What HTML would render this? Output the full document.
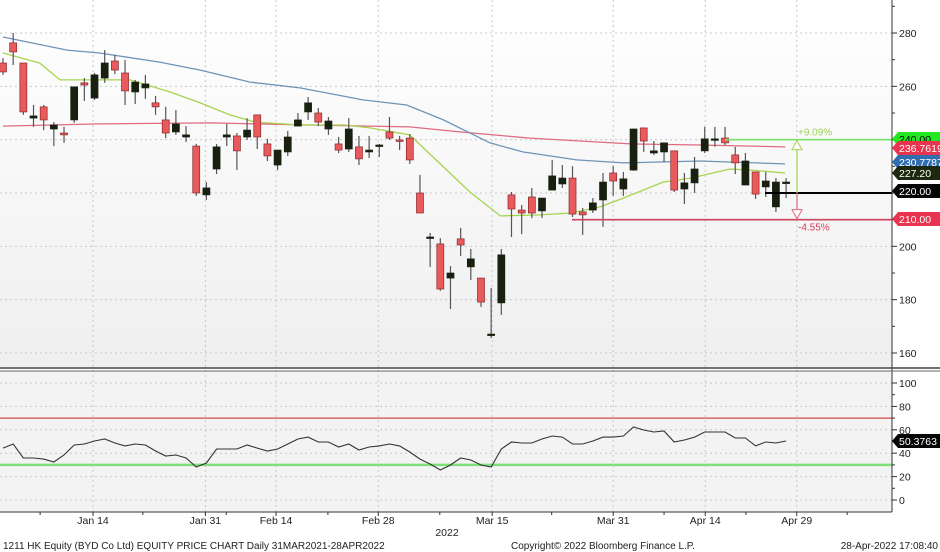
<!DOCTYPE html>
<html><head><meta charset="utf-8"><style>
html,body{margin:0;padding:0;background:#fff;}
#wrap{position:relative;width:940px;height:552px;overflow:hidden;font-family:"Liberation Sans",sans-serif;}
svg text{font-family:"Liberation Sans",sans-serif;}
</style></head><body>
<div id="wrap">
<svg id="chart" width="940" height="552" viewBox="0 0 940 552" xmlns="http://www.w3.org/2000/svg">
<defs><linearGradient id="bg" x1="0" y1="0" x2="0" y2="1"><stop offset="0" stop-color="#ffffff"/><stop offset="1" stop-color="#efefef"/></linearGradient></defs>
<rect x="0" y="0" width="892" height="367" fill="url(#bg)"/>
<rect x="0" y="371" width="892" height="141" fill="#f3f3f3"/>
<g id="grid"></g><g id="ma"></g><g id="candles"></g><g id="levels"></g><g id="rsi"></g><g id="axes"></g>
<line x1="0" y1="368" x2="940" y2="368" stroke="#444" stroke-width="1.5"/>
<line x1="0" y1="371" x2="940" y2="371" stroke="#666" stroke-width="1"/>
<text x="3" y="549" font-size="10" fill="#222">1211 HK Equity (BYD Co Ltd) EQUITY PRICE CHART  Daily 31MAR2021-28APR2022</text>
<text x="511" y="549" font-size="10" fill="#222">Copyright© 2022 Bloomberg Finance L.P.</text>
<text x="938" y="549" font-size="10" fill="#222" text-anchor="end">28-Apr-2022 17:08:40</text>
<text x="447" y="536" font-size="10.5" fill="#222" text-anchor="middle">2022</text>
</svg>
</div>
<script>
const opens=[268.75,276.3,268.75,248.1,252.3,244,242.5,247.4,261.3,255.6,263.1,269.5,265,257.9,259.4,253.8,247.4,242.9,241,237.6,219.3,229,241,241.4,241,249.3,238.4,230.5,235.4,245.1,250.4,250,244,238.4,236.5,237.3,235.4,238,242.9,239.9,240.6,220,203.5,200.9,188.1,202.8,192.3,188.1,167.1,178.8,219.3,213.6,218.5,213.3,221.1,223.4,225.6,212.9,213.6,217.4,227.5,221.5,228.6,244.4,235,235.4,235.8,221.5,223.8,235.8,240.3,240.6,234.3,223,227.9,222.3,214.8,224.1];
const highs=[270.6,280,268.75,253,253,246.6,244.8,259.8,263.1,265,273.6,271.8,269.9,262.4,264.3,256.4,252.3,251.1,245.1,238.4,224.1,238.4,245.9,242.5,248.1,249.3,240.3,236.1,243.3,250,256,251.9,248.5,241,248.1,241.4,241.4,238.4,248.5,241.4,242.1,226.8,205,203.1,192.6,206.9,199,188.1,184.4,199,220.4,215.5,221.9,218.1,232.4,230.5,230.1,214.4,218.1,227.5,230.1,227.9,244,244.4,239.5,238.8,235.8,227.5,233.5,244.8,244.8,244.8,237.3,235,227.9,227.9,225.6,225.6];
const lows=[264.3,268,249.3,244.8,243.6,237.6,238.8,246.3,254.5,254.9,261.3,264.6,253,253.4,255.3,249.3,240.6,241.8,239.1,218.9,217.4,227.1,237.6,228.6,239.9,236.5,232,228.6,233.9,245.1,247.4,245.1,241.8,235,235.4,230.5,233.1,233.5,239.9,236.1,230.9,212.5,192.3,183.3,176.5,196.4,187.4,177.3,165.6,174.3,203.5,204.6,210.6,210.6,221.1,221.9,211,204.3,212.5,207.3,218.9,218.9,228.3,235.4,234.3,231.6,220.4,215.9,220,235,237.3,238,227.1,223,217.8,218.5,212.9,218.1];
const closes=[265.4,272.9,250.4,248.9,247.4,245.5,241.8,259.8,260.5,264.3,268.75,266.1,258.3,261.6,260.9,252.3,242.5,245.9,241.8,220,221.9,237.3,241.8,235.8,243.6,241,233.9,236.1,241,247.4,253.8,246.6,247,236.1,244,232.8,236.1,238,240.6,239.5,232.4,212.5,203.5,184,190,200.5,195.3,179.1,167.1,196.8,214,212.5,212.5,218.1,226.4,225.6,212.1,211.8,216.3,224.1,224.5,225.3,244,239.5,235.8,238.8,221.1,223.8,229,240.3,240.3,238.8,231.3,232,219.6,224.5,224.1,224.1];
const maFastIdx=[0,3.6,5.6,12.5,16.4,19.4,22.3,24.8,29.2,33.6,36.1,40,43.3,45.9,48.9,52.8,55.8,58.7,61,64.9,67.6,71.5,73.5,76.9];
const maFastVal=[272.5,268.75,262.4,262.4,257.9,253.8,249.3,246.6,245.5,245.5,244.4,241.8,229.8,220.4,211.4,211.8,212.5,214.8,218.1,224.1,225.6,229,228.6,227.5];
const maMidIdx=[0,6.3,9.5,15.4,19.4,24.3,29.2,35.4,39.7,43.3,47.9,51.1,56.4,61,68.5,76.9];
const maMidVal=[278.5,273.6,272.5,269.1,266.1,261.6,259.4,254.9,253,247.4,238.8,235.4,232.4,231.3,232,230.9];
const maSlowIdx=[0,9.5,20.4,30.2,40,44.9,51.8,61.7,68.5,76.9];
const maSlowVal=[245.1,245.9,246.3,245.5,244.8,242.9,240.6,238.4,238,237.3];
const rsiVals=[44.4,47.9,35.9,35.9,35,32.5,38.5,47,47.9,50.4,52.1,48.7,46.2,47.9,47,41.9,37.6,38.5,35.9,28.2,31.6,43.6,43.6,43.6,47,44.4,41.9,43.6,47.9,52.1,53.8,49.6,49.6,45.3,47.9,42.7,45.3,46.2,47.9,46.2,41,35,30.8,25.6,29.9,35.9,34.2,29.9,28.2,43.6,49.6,48.7,48.7,52.1,54.7,53.8,47.9,47.9,50.4,53.8,53.8,54.7,62.4,59.8,58.1,59,49.6,51.3,53.8,58.1,58.1,58.1,53,53,46.2,49.6,48.7,50.4];
const priceTicks=[160,180,200,220,240,260,280];
const rsiTicks=[0,20,40,60,80,100];
const dateLabels=["Jan 14","Jan 31","Feb 14","Feb 28","Mar 15","Mar 31","Apr 14","Apr 29"];
const dateIdx=[8.85,19.9,26.85,36.9,48.1,60,69.05,78.05];
const minorDateIdx=[3.65,13.75,21.95,31.95,42.95,53.95,65,73.05,83];
const levelVals=[240,220,210];
const tagLabels=["240.00","236.7619","230.7787","227.20","220.00","210.00"];
const tagVals=[240,236.7619,230.7787,227.2,220,210];
const rsiBands=[70,30];
const rsiLast=50.3763;

const NS="http://www.w3.org/2000/svg";
const X0=3,STEP=10.17;
const xOf=i=>X0+i*STEP;
const yP=p=>33+(280-p)*2.6667;
const yR=v=>500-v*1.17;
function mk(tag,attrs,parent){const e=document.createElementNS(NS,tag);for(const k in attrs)e.setAttribute(k,attrs[k]);parent.appendChild(e);return e;}
const grid=document.getElementById('grid'),ma=document.getElementById('ma'),cg=document.getElementById('candles'),lv=document.getElementById('levels'),rg=document.getElementById('rsi'),ax=document.getElementById('axes');

priceTicks.forEach(p=>{const l=mk('line',{x1:0,x2:892,y1:yP(p),y2:yP(p),stroke:'#c8c8c8','stroke-dasharray':'2,3'},grid);

});
rsiTicks.forEach(v=>{const l=mk('line',{x1:0,x2:892,y1:yR(v),y2:yR(v),stroke:'#c8c8c8','stroke-dasharray':'2,3'},grid);

});
dateIdx.forEach(d=>{const l=mk('line',{x1:xOf(d),x2:xOf(d),y1:0,y2:512,stroke:'#c8c8c8','stroke-dasharray':'2,3'},grid);

});

function maLine(idx,val,color,name){const pts=idx.map((d,k)=>xOf(d).toFixed(1)+','+yP(val[k]).toFixed(1)).join(' ');
const l=mk('polyline',{points:pts,fill:'none',stroke:color,'stroke-width':1.3},ma);

}
maLine(maSlowIdx,maSlowVal,'#e06a80','ma-200-line');
maLine(maMidIdx,maMidVal,'#6f93b8','ma-50-line');
maLine(maFastIdx,maFastVal,'#a6d450','ma-20-line');

opens.forEach((o,i)=>{const c=closes[i],x=xOf(i);const up=c>=o;
const w=mk('line',{x1:x,x2:x,y1:yP(highs[i]),y2:yP(lows[i]),stroke:'#555','stroke-width':1.2},cg);


const top=yP(Math.max(o,c)),bot=yP(Math.min(o,c));
const b=mk('rect',{x:x-3.5,y:top,width:7,height:Math.max(1.5,bot-top),fill:up?'#18200f':'#e85a5c',stroke:up?'#18200f':'#8a2a2c','stroke-width':0.7},cg);

});

const lvStart=[725,765,572],lvColor=['#7de06a','#000','#d2405a'];
levelVals.forEach((v,k)=>{const l=mk('line',{x1:lvStart[k],x2:892,y1:yP(v),y2:yP(v),stroke:lvColor[k],'stroke-width':k==1?2:1.6},lv);

});
const ax0=797;
let a=mk('line',{x1:ax0,x2:ax0,y1:yP(levelVals[0]),y2:yP(levelVals[1]),stroke:'#a6d450','stroke-width':1.2},lv);


a=mk('polygon',{points:`${ax0-5},${yP(levelVals[0])+10} ${ax0+5},${yP(levelVals[0])+10} ${ax0},${yP(levelVals[0])+1}`,fill:'#fff',stroke:'#a6d450'},lv);


a=mk('line',{x1:ax0,x2:ax0,y1:yP(levelVals[1]),y2:yP(levelVals[2]),stroke:'#e06a80','stroke-width':1.2},lv);


a=mk('polygon',{points:`${ax0-5},${yP(levelVals[2])-10} ${ax0+5},${yP(levelVals[2])-10} ${ax0},${yP(levelVals[2])-1}`,fill:'#fff',stroke:'#e06a80'},lv);


let t=mk('text',{x:ax0+1,y:yP(levelVals[0])-4,'font-size':10,fill:'#9fd05a'},lv);t.textContent='+'+((levelVals[0]/levelVals[1]-1)*100).toFixed(2)+'%';


t=mk('text',{x:ax0+1,y:yP(levelVals[2])+11,'font-size':10,fill:'#d2405a'},lv);t.textContent=((levelVals[2]/levelVals[1]-1)*100).toFixed(2)+'%';



rsiBands.forEach((v,k)=>{const l=mk('line',{x1:0,x2:892,y1:yR(v),y2:yR(v),stroke:k?'#7ee07a':'#d24b4b','stroke-width':k?2.5:1.2},rg);

});
const rp=mk('polyline',{points:rsiVals.map((v,i)=>xOf(i).toFixed(1)+','+yR(v).toFixed(1)).join(' '),fill:'none',stroke:'#333','stroke-width':1.1},rg);



let l=mk('line',{x1:892,x2:892,y1:0,y2:512,stroke:'#333','stroke-width':1},ax);


l=mk('line',{x1:0,x2:892,y1:512,y2:512,stroke:'#333','stroke-width':1},ax);


for(let p=150;p<=290;p+=10){const y=yP(p);if(y<2||y>366)continue;const major=p%20==0;
const tk=mk('line',{x1:892,x2:major?897:895,y1:y,y2:y,stroke:'#333'},ax);

}
priceTicks.forEach(p=>{const tx=mk('text',{x:899,y:yP(p)+4,'font-size':10.5,fill:'#222'},ax);tx.textContent=p;

});
for(let v=-10;v<=110;v+=10){const y=yR(v);if(y<373||y>511)continue;
const tk=mk('line',{x1:892,x2:v%20==0?897:895,y1:y,y2:y,stroke:'#333'},ax);

}
rsiTicks.forEach(v=>{const tx=mk('text',{x:899,y:yR(v)+4,'font-size':10.5,fill:'#222'},ax);tx.textContent=v;

});
dateIdx.forEach((d,k)=>{const x=xOf(d);const tk=mk('line',{x1:x,x2:x,y1:512,y2:516,stroke:'#333'},ax);


const tx=mk('text',{x:x,y:524,'font-size':10.5,fill:'#222','text-anchor':'middle'},ax);tx.textContent=dateLabels[k];

});
minorDateIdx.forEach(d=>{const x=xOf(d);const tk=mk('line',{x1:x,x2:x,y1:512,y2:515,stroke:'#333'},ax);

});
const tagBg=['#22e822','#e8344f','#2f6eb0','#1c2810','#050505','#e8344f'],tagFg=['#000','#fff','#fff','#fff','#fff','#fff'];
const tagY=[139,148,162,173,191,219];
function tag(y,label,bg,fg,name){const g=mk('g',{},ax);


mk('polygon',{points:`892,${y} 898,${y-7} 940,${y-7} 940,${y+7} 898,${y+7}`,fill:bg},g);
const tx=mk('text',{x:899,y:y+4,'font-size':10.5,fill:fg},g);tx.textContent=label;}
tagVals.forEach((v,k)=>tag(tagY[k],tagLabels[k],tagBg[k],tagFg[k],'price-tag-'+k));
tag(yR(rsiLast),rsiLast.toFixed(4),'#050505','#fff','rsi-value-tag');
</script>
</body></html>
